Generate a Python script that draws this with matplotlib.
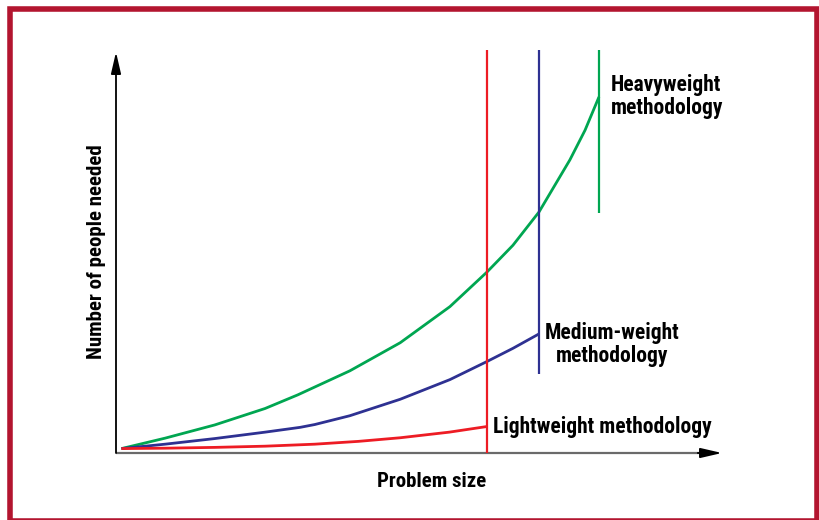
import matplotlib
matplotlib.use('Agg')
import matplotlib.pyplot as plt
from matplotlib import font_manager
from matplotlib.patches import Rectangle

# curves (problem size vs. people needed, both 0..100)
heavy_x = [0.9, 8.1, 16.3, 24.6, 30.0, 38.6, 46.9, 55.1, 61.2, 65.5, 69.8, 74.9, 77.4, 79.7]
heavy_y = [1.1, 3.7, 7.0, 11.1, 14.5, 20.5, 27.5, 36.5, 45.1, 51.8, 60.1, 73.1, 80.5, 88.8]
medium_x = [0.9, 8.1, 16.3, 24.6, 30.4, 32.8, 38.6, 46.9, 55.1, 61.2, 65.5, 69.8]
medium_y = [1.1, 2.2, 3.6, 5.2, 6.4, 7.1, 9.3, 13.4, 18.3, 22.8, 26.1, 29.7]
light_x = [0.9, 8.1, 16.3, 24.6, 32.8, 40.0, 46.9, 55.0, 61.2]
light_y = [1.1, 1.2, 1.4, 1.7, 2.2, 2.9, 3.8, 5.2, 6.6]

# vertical limit bars: (x, bottom)
heavy_bar = (79.7, 59.9)
medium_bar = (69.8, 19.7)
light_bar = (61.2, 0.0)
bar_top = 100.5

labels = ['Heavyweight\nmethodology', 'Medium-weight\nmethodology', 'Lightweight methodology']
xlabel = 'Problem size'
ylabel = 'Number of people needed'

GREEN = '#00a651'
BLUE = '#2e3192'
RED = '#ed1c24'
BORDER = '#b3152f'

# pick a narrow bold face if one is around
names = {f.name for f in font_manager.fontManager.ttflist}
narrow = [n for n in ['Liberation Sans Narrow', 'Roboto Condensed', 'Open Sans Condensed',
                      'Noto Sans Condensed', 'DejaVu Sans Condensed'] if n in names]
font = narrow + ['DejaVu Sans']
txt = dict(family=font, weight='bold', stretch='condensed')

fig = plt.figure(figsize=(8.2, 5.2), dpi=100)
ax = fig.add_axes([116/820, 67/520, 606/820, 401/520])
ax.set_xlim(0, 100)
ax.set_ylim(0, 100)
ax.axis('off')

# axes with arrows (x axis: grey shaft, black head)
head = '-|>,head_length=1.3,head_width=0.3'
ax.annotate('', xy=(0, 1), xytext=(0, 0), xycoords='axes fraction',
            arrowprops=dict(arrowstyle=head, color='black', lw=1.3,
                            mutation_scale=10, shrinkA=0, shrinkB=0))
ax.plot([0, 0.975], [0, 0], transform=ax.transAxes, color='#6a6a6a', lw=1.6,
        solid_capstyle='butt', clip_on=False)
ax.annotate('', xy=(1, 0), xytext=(0.96, 0), xycoords='axes fraction',
            arrowprops=dict(arrowstyle=head, color='black', lw=1.3,
                            mutation_scale=10, shrinkA=0, shrinkB=0))

ax.plot(heavy_x, heavy_y, color=GREEN, lw=2.0, solid_capstyle='butt', clip_on=False)
ax.plot(medium_x, medium_y, color=BLUE, lw=2.0, solid_capstyle='butt', clip_on=False)
ax.plot(light_x, light_y, color=RED, lw=2.0, solid_capstyle='butt', clip_on=False)

for (bx, by), c in [(heavy_bar, GREEN), (medium_bar, BLUE), (light_bar, RED)]:
    ax.plot([bx, bx], [by, bar_top], color=c, lw=1.6, solid_capstyle='butt', clip_on=False)

ax.text(81.7, 88.8, labels[0], fontsize=15.5, ha='left', va='center', linespacing=1.05, **txt)
ax.text(81.8, 27.0, labels[1], fontsize=15.5, ha='center', va='center',
        multialignment='center', linespacing=1.05, **txt)
ax.text(62.2, 6.6, labels[2], fontsize=15.5, ha='left', va='center', **txt)

ax.text(52.1, -7.2, xlabel, fontsize=15, ha='center', va='center', clip_on=False, **txt)
ax.text(-3.3, 50.1, ylabel, fontsize=15, ha='center', va='center', rotation=90,
        clip_on=False, **txt)

# red frame round the figure
fig.add_artist(Rectangle((10.5/820, -0.5/520), 807/820, 512/520,
                         transform=fig.transFigure, fill=False,
                         ec=BORDER, lw=4.0))

fig.savefig('out.png', dpi=100)
